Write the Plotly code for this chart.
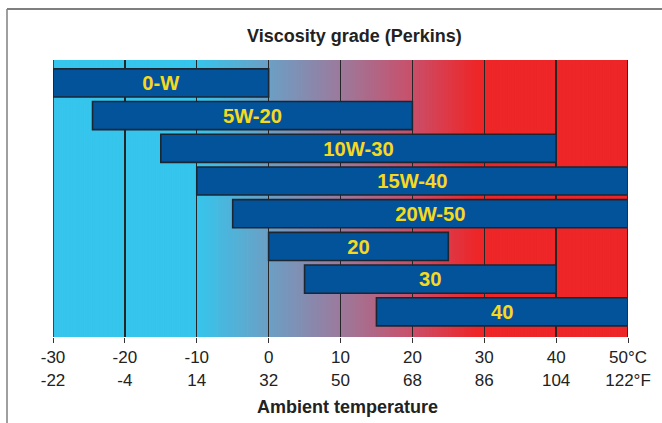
import numpy as np
import plotly.graph_objects as go

# ---- data ----
grades = ["0-W", "5W-20", "10W-30", "15W-40", "20W-50", "20", "30", "40"]
temp_min = [-30, -24.5, -15, -10, -5, 0, 5, 15]
temp_max = [0, 20, 40, 50, 50, 25, 40, 50]
tick_c = [-30, -20, -10, 0, 10, 20, 30, 40, 50]
tick_c_labels = ["-30", "-20", "-10", "0", "10", "20", "30", "40", "50°C"]
tick_f_labels = ["-22", "-4", "14", "32", "50", "68", "86", "104", "122°F"]

title_text = "Viscosity grade (Perkins)"
xtitle_text = "Ambient temperature"

# ---- style ----
W, H = 662, 423
ML, MR, MT, MB = 53, 34, 60, 86
plot_w = W - ML - MR
plot_h = H - MT - MB
y_lo, y_hi = -0.70, 7.77
FONT = "Liberation Sans, Arial, sans-serif"

def px_to_paper_x(px):
    return (px - ML) / plot_w

def py_to_paper_y(py):
    return (H - MB - py) / plot_h

# background gradient stops (temperature, rgb)
grad_t = [-30, -10, 0, 10, 20, 29, 50]
grad_rgb = [
    (54, 197, 236), (54, 197, 236), (108, 159, 197), (156, 122, 156),
    (201, 79, 106), (238, 38, 40), (238, 38, 40),
]

def grad_color(t):
    r = np.interp(t, grad_t, [c[0] for c in grad_rgb])
    g = np.interp(t, grad_t, [c[1] for c in grad_rgb])
    b = np.interp(t, grad_t, [c[2] for c in grad_rgb])
    return f"rgb({int(round(r))},{int(round(g))},{int(round(b))})"

edges = np.linspace(tick_c[0], tick_c[-1], 321)
bg_shapes = []
for a, b in zip(edges[:-1], edges[1:]):
    col = grad_color((a + b) / 2)
    bg_shapes.append(dict(
        type="rect", xref="x", yref="paper", layer="below",
        x0=a, x1=b + 0.12, y0=0, y1=1,
        fillcolor=col, line=dict(width=0),
    ))

fig = go.Figure()

fig.add_trace(go.Bar(
    y=list(range(len(grades))),
    x=[b - a for a, b in zip(temp_min, temp_max)],
    base=temp_min,
    orientation="h",
    width=0.86,
    marker=dict(color="#03539B", line=dict(color="#1C2633", width=1.6)),
    text=grades,
    textposition="inside",
    insidetextanchor="middle",
    textangle=0,
    textfont=dict(family=FONT, size=21, color="#F6D91F", weight="bold"),
    hoverinfo="skip",
    showlegend=False,
))

fig.update_layout(
    width=W, height=H,
    margin=dict(l=ML, r=MR, t=MT, b=MB),
    paper_bgcolor="white",
    plot_bgcolor="white",
    showlegend=False,
    bargap=0,
    font=dict(family=FONT, color="#222222"),
    xaxis=dict(
        range=[tick_c[0], tick_c[-1]],
        tickmode="array",
        tickvals=tick_c,
        ticktext=[f"{c}<br>{f}" for c, f in zip(tick_c_labels, tick_f_labels)],
        ticks="outside", ticklen=5, tickwidth=1, tickcolor="#333333",
        tickfont=dict(family=FONT, size=17, color="#222222"),
        showgrid=True, gridcolor="#262626", gridwidth=1.3,
        zeroline=False, showline=False,
        fixedrange=True,
    ),
    yaxis=dict(
        range=[y_hi, y_lo],
        visible=False,
        showgrid=False, zeroline=False,
        fixedrange=True,
    ),
    annotations=[
        dict(text=title_text, xref="paper", yref="paper",
             x=px_to_paper_x(354), y=py_to_paper_y(36),
             xanchor="center", yanchor="middle", showarrow=False,
             font=dict(family=FONT, size=18, color="#222222", weight="bold")),
        dict(text=xtitle_text, xref="paper", yref="paper",
             x=px_to_paper_x(347), y=py_to_paper_y(407),
             xanchor="center", yanchor="middle", showarrow=False,
             font=dict(family=FONT, size=18, color="#222222", weight="bold")),
    ],
    shapes=bg_shapes + [
        # outer frame (top and left)
        dict(type="line", xref="paper", yref="paper",
             x0=px_to_paper_x(7), x1=px_to_paper_x(700),
             y0=py_to_paper_y(9), y1=py_to_paper_y(9),
             line=dict(color="#7F7F7F", width=2)),
        dict(type="line", xref="paper", yref="paper",
             x0=px_to_paper_x(7), x1=px_to_paper_x(7),
             y0=py_to_paper_y(9), y1=py_to_paper_y(440),
             line=dict(color="#7F7F7F", width=1.5)),
        # plot border lines at both ends
        dict(type="line", xref="x", yref="paper",
             x0=tick_c[0], x1=tick_c[0], y0=0, y1=1,
             line=dict(color="#262626", width=1.5)),
        dict(type="line", xref="x", yref="paper",
             x0=tick_c[-1], x1=tick_c[-1], y0=0, y1=1,
             line=dict(color="#5A1A1A", width=2)),
    ],
)

fig.write_html(
    "out.html",
    config={"displayModeBar": False, "staticPlot": True},
    post_script="document.body.style.margin='0';document.body.style.overflow='hidden';",
)
